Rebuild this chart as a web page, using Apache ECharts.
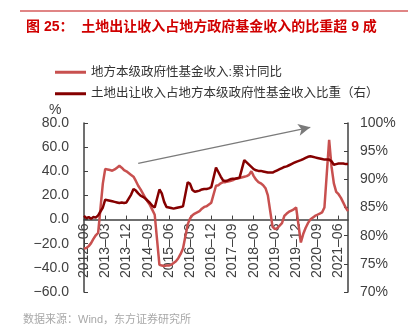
<!DOCTYPE html>
<html>
<head>
<meta charset="utf-8">
<script src="https://cdn.jsdelivr.net/npm/echarts@6/dist/echarts.min.js"></script>
<style>
  html, body { margin: 0; padding: 0; background: #fff; }
  #chart { width: 411px; height: 335px; }
</style>
</head>
<body>
<div id="chart"></div>
<script>
// Monthly categories, 2012-06 .. 2021-10
const months = [
  '2012-06','2012-07','2012-08','2012-09','2012-10','2012-11','2012-12',
  '2013-01','2013-02','2013-03','2013-04','2013-05','2013-06','2013-07','2013-08','2013-09','2013-10','2013-11','2013-12',
  '2014-01','2014-02','2014-03','2014-04','2014-05','2014-06','2014-07','2014-08','2014-09','2014-10','2014-11','2014-12',
  '2015-01','2015-02','2015-03','2015-04','2015-05','2015-06','2015-07','2015-08','2015-09','2015-10','2015-11','2015-12',
  '2016-01','2016-02','2016-03','2016-04','2016-05','2016-06','2016-07','2016-08','2016-09','2016-10','2016-11','2016-12',
  '2017-01','2017-02','2017-03','2017-04','2017-05','2017-06','2017-07','2017-08','2017-09','2017-10','2017-11','2017-12',
  '2018-01','2018-02','2018-03','2018-04','2018-05','2018-06','2018-07','2018-08','2018-09','2018-10','2018-11','2018-12',
  '2019-01','2019-02','2019-03','2019-04','2019-05','2019-06','2019-07','2019-08','2019-09','2019-10','2019-11','2019-12',
  '2020-01','2020-02','2020-03','2020-04','2020-05','2020-06','2020-07','2020-08','2020-09','2020-10','2020-11','2020-12',
  '2021-01','2021-02','2021-03','2021-04','2021-05','2021-06','2021-07','2021-08','2021-09','2021-10'
];

// 地方本级政府性基金收入:累计同比 (%), January not published (Jan-Feb combined)
const fundRevenueYoY = [
  -24, -23.5, -22, -19.5, -16, -13, -11,
  null, 30, 42, 41.5, 41, 40.5, 41.5, 43, 44.5, 43, 41, 40,
  null, 37, 35.5, 32, 28, 25, 21.5, 18, 15, 12, 8, 4,
  null, -37.5, -38, -38.5, -38, -38, -37.5, -36, -34.5, -32, -28.5, -24,
  null, -4, 1, 3.5, 5, 6, 7, 9, 10.5, 11, 12.5, 14,
  null, 28, 28.5, 30, 31, 31, 31.5, 32, 32.5, 33.5, 34, 34.5,
  null, 35.5, 36, 37, 40, 36, 33, 31, 30, 28.5, 26, 20,
  null, -6, -8, -7, -5, -3, 3, 5, 6.5, 7.5, 8.5, 10,
  null, -19, -12, -7, -3, 0, 1.5, 3, 4, 5, 6, 10,
  null, 66, 44, 30, 23, 21, 18, 14, 10, 7
];

// 土地出让收入占地方本级政府性基金收入比重 (%)
const landShare = [
  83.5, 83.1, 83.3, 83.0, 83.3, 83.2, 83.6,
  null, 85.0, 86.4, 86.3, 86.2, 86.1, 86.0, 85.9, 85.8, 85.9, 85.8, 85.9,
  null, 87.3, 88.3, 88.0, 87.5, 87.1, 86.9, 86.6, 86.2, 85.8, 85.3, 85.0,
  null, 88.2, 87.5, 86.0, 85.1, 85.0, 84.9, 84.8, 84.9, 85.0, 85.1, 85.2,
  null, 89.5, 89.2, 88.1, 87.8, 87.9, 88.0, 88.2, 88.3, 88.3, 88.4, 88.6,
  null, 92.1, 91.3, 90.5, 89.8, 89.7, 89.8, 90.0, 90.1, 90.1, 90.2, 90.3,
  null, 93.4, 93.0, 92.6, 92.2, 91.8, 91.6, 91.5, 91.5, 91.4, 91.3, 91.2,
  null, 91.2, 91.4, 91.6, 91.8, 92.0, 92.2, 92.3, 92.5, 92.7, 92.9, 93.1,
  null, 93.4, 93.6, 93.8, 94.0, 94.1, 94.0, 93.9, 93.8, 93.7, 93.6, 93.5,
  null, 93.5, 93.2, 92.6, 92.7, 92.8, 92.8, 92.8, 92.7, 92.7
];

// Left and right value-axis ranges
const leftTicks = { min: -60, max: 80, step: 20 };
const rightTicks = { min: 70, max: 100, step: 5 };

// Trend arrow endpoints [category, left-axis value]
const trendArrow = [['2014-05', 46.5], ['2020-06', 76.4]];

const seriesNames = ['地方本级政府性基金收入:累计同比', '土地出让收入占地方本级政府性基金收入比重（右）'];
const titleText = '图 25：  土地出让收入占地方政府基金收入的比重超 9 成';
const sourceText = '数据来源：Wind，东方证券研究所';

const FONT = '"Liberation Sans", "Noto Sans CJK SC", sans-serif';
const AXIS_COLOR = '#404040';
const LABEL_COLOR = '#404040';

// Plot area
const W = 411, H = 335;
const GRID = { left: 84, right: 63, top: 123, bottom: 43 };
const plotH = H - GRID.top - GRID.bottom;
// Category axis sits on the left axis' zero line: shift it up from the grid bottom
const zeroOffset = -plotH * (0 - leftTicks.min) / (leftTicks.max - leftTicks.min);

const chart = echarts.init(document.getElementById('chart'), null, { renderer: 'canvas' });

chart.setOption({
  animation: false,
  textStyle: { fontFamily: FONT },
  title: {
    text: titleText,
    left: 21,
    top: 15,
    textStyle: { fontSize: 14, fontWeight: 'bold', color: '#D00000', fontFamily: FONT }
  },
  graphic: [
    {
      type: 'line',
      shape: { x1: 20, y1: 11, x2: 408, y2: 11 },
      style: { stroke: '#E08585', lineWidth: 2 }
    },
    {
      type: 'text',
      left: 23,
      top: 314,
      style: { text: sourceText, fill: '#a8a8a8', fontSize: 11, fontFamily: FONT }
    },
    {
      type: 'text',
      left: 49,
      top: 103,
      style: { text: '%', fill: LABEL_COLOR, fontSize: 14, fontFamily: FONT }
    }
  ],
  legend: {
    orient: 'vertical',
    left: 50,
    top: 61,
    itemGap: 9,
    itemWidth: 31,
    itemHeight: 3,
    icon: 'rect',
    textStyle: { fontSize: 12.5, color: '#333', fontFamily: FONT },
    data: seriesNames
  },
  grid: Object.assign({ containLabel: false, outerBoundsMode: 'none' }, GRID),
  xAxis: {
    type: 'category',
    data: months,
    boundaryGap: false,
    position: 'bottom',
    offset: zeroOffset,
    axisLine: { onZero: false, lineStyle: { color: AXIS_COLOR, width: 1.5 } },
    axisTick: { show: true, inside: true, length: 4, interval: 8, lineStyle: { color: AXIS_COLOR } },
    axisLabel: {
      interval: 8,
      rotate: 90,
      margin: 4,
      fontSize: 14,
      color: LABEL_COLOR,
      formatter: v => v.replace('-', '–')
    },
    splitLine: { show: false }
  },
  yAxis: [
    {
      type: 'value',
      min: leftTicks.min,
      max: leftTicks.max,
      interval: leftTicks.step,
      axisLine: { show: true, lineStyle: { color: AXIS_COLOR, width: 1.5 } },
      axisTick: { show: true, inside: true, length: 4, lineStyle: { color: AXIS_COLOR } },
      axisLabel: {
        fontSize: 14,
        color: LABEL_COLOR,
        margin: 15,
        formatter: v => (v < 0 ? '−' + Math.abs(v).toFixed(1) : v.toFixed(1))
      },
      splitLine: { show: false }
    },
    {
      type: 'value',
      min: rightTicks.min,
      max: rightTicks.max,
      interval: rightTicks.step,
      position: 'right',
      axisLine: { show: true, lineStyle: { color: AXIS_COLOR, width: 1.5 } },
      axisTick: { show: true, inside: true, length: 4, lineStyle: { color: AXIS_COLOR } },
      axisLabel: { fontSize: 14, color: LABEL_COLOR, margin: 12, formatter: v => v + '%' },
      splitLine: { show: false }
    }
  ],
  series: [
    {
      name: seriesNames[0],
      type: 'line',
      yAxisIndex: 0,
      data: fundRevenueYoY,
      connectNulls: true,
      showSymbol: false,
      itemStyle: { color: '#C8504F' },
      lineStyle: { color: '#C8504F', width: 2.5 },
      markLine: {
        silent: true,
        symbol: ['none', 'arrow'],
        symbolSize: [9, 12],
        label: { show: false },
        lineStyle: { color: '#7a7a7a', width: 1.2, type: 'solid' },
        data: [[{ coord: trendArrow[0] }, { coord: trendArrow[1] }]]
      }
    },
    {
      name: seriesNames[1],
      type: 'line',
      yAxisIndex: 1,
      data: landShare,
      connectNulls: true,
      showSymbol: false,
      itemStyle: { color: '#850000' },
      lineStyle: { color: '#850000', width: 2.5 }
    }
  ]
});
</script>
</body>
</html>
